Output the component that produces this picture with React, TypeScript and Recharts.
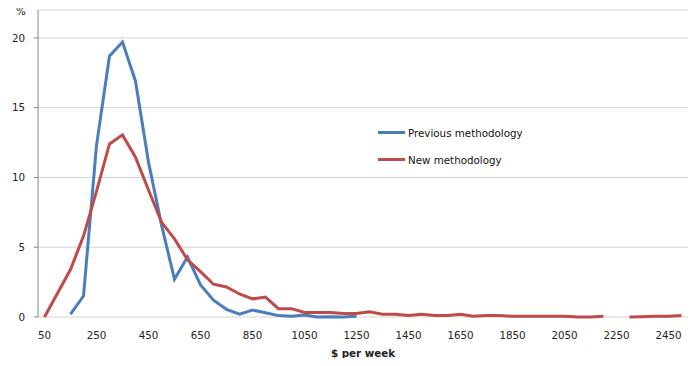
import { LineChart, Line, XAxis, YAxis, CartesianGrid, Legend } from 'recharts'

const WEEKLY_PAY = [
  50, 100, 150, 200, 250, 300, 350, 400, 450, 500,
  550, 600, 650, 700, 750, 800, 850, 900, 950, 1000,
  1050, 1100, 1150, 1200, 1250, 1300, 1350, 1400, 1450, 1500,
  1550, 1600, 1650, 1700, 1750, 1800, 1850, 1900, 1950, 2000,
  2050, 2100, 2150, 2200, 2250, 2300, 2350, 2400, 2450, 2500,
]

const PREVIOUS = [
  null, null, 0.2, 1.5, 12.3, 18.7, 19.7, 16.9, 11.1, 6.6,
  2.7, 4.3, 2.3, 1.2, 0.55, 0.2, 0.5, 0.3, 0.1, 0.05,
  0.15, 0, 0.02, 0, 0.05, null, null, null, null, null,
  null, null, null, null, null, null, null, null, null, null,
  null, null, null, null, null, null, null, null, null, null,
]

const NEW = [
  0, 1.7, 3.4, 5.8, 9.0, 12.4, 13.05, 11.45, 9.1, 6.8,
  5.6, 4.1, 3.25, 2.35, 2.15, 1.65, 1.3, 1.43, 0.6, 0.6,
  0.33, 0.33, 0.33, 0.25, 0.25, 0.38, 0.2, 0.2, 0.1, 0.2,
  0.1, 0.1, 0.2, 0.05, 0.1, 0.1, 0.05, 0.05, 0.05, 0.05,
  0.05, 0, 0, 0.05, null, 0, 0.02, 0.05, 0.05, 0.1,
]

const X_LABELS = [50, 250, 450, 650, 850, 1050, 1250, 1450, 1650, 1850, 2050, 2250, 2450]
const Y_TICKS = [0, 5, 10, 15, 20]

const BLUE = '#4a7ebb'
const RED = '#be4b48'
const FONT = '"DejaVu Sans", Verdana, sans-serif'

const data = WEEKLY_PAY.map((pay, i) => ({ pay, previous: PREVIOUS[i], newer: NEW[i] }))
// tick marks sit between categories, like Excel
const boundaries = [WEEKLY_PAY[0] - 25, ...WEEKLY_PAY.map(p => p + 25)]

const LegendBox = () => (
  <div style={{ fontFamily: FONT, fontSize: 10.3, color: '#111' }}>
    {[['Previous methodology', BLUE], ['New methodology', RED]].map(([name, c]) => (
      <div key={name} style={{ display: 'flex', alignItems: 'center', height: 27 }}>
        <span style={{ width: 27, height: 3, background: c, display: 'inline-block', marginRight: 3 }} />
        {name}
      </div>
    ))}
  </div>
)

export default function App() {
  return (
    <div style={{ margin: -8, background: '#fff', width: 699, height: 366 }}>
      <LineChart width={699} height={366} data={data} margin={{ top: 10, right: 11, left: 0, bottom: 0 }}>
        <CartesianGrid horizontal vertical={false} stroke="#d4d4d4" />
        <XAxis
          xAxisId="marks"
          dataKey="pay"
          type="number"
          domain={[25, 2525]}
          ticks={boundaries}
          tickFormatter={() => ''}
          height={0}
          tickSize={4}
          axisLine={{ stroke: '#868686' }}
          tickLine={{ stroke: '#868686' }}
        />
        <XAxis
          xAxisId="main"
          dataKey="pay"
          type="number"
          domain={[25, 2525]}
          ticks={X_LABELS}
          interval={0}
          height={49}
          axisLine={false}
          tickLine={false}
          tickSize={5}
          tickMargin={10}
          tick={{ fontFamily: FONT, fontSize: 10.3, fill: '#222' }}
          label={{ value: '$ per week', position: 'insideBottom', offset: 9, fontFamily: FONT, fontSize: 10.3, fontWeight: 'bold', fill: '#222' }}
        />
        <YAxis
          domain={[0, 22]}
          ticks={Y_TICKS}
          width={38}
          tickSize={4}
          tickMargin={9}
          tickLine={{ stroke: '#868686' }}
          axisLine={{ stroke: '#868686' }}
          tick={{ fontFamily: FONT, fontSize: 10.3, fill: '#222' }}
          label={{ value: '%', position: 'top', offset: -5, dx: 2, fontFamily: FONT, fontSize: 10.3, fill: '#222' }}
        />
        <Legend
          content={<LegendBox />}
          layout="horizontal"
          verticalAlign="middle"
          wrapperStyle={{ left: 378, top: 119, width: 200, bottom: 'auto' }}
        />
        <Line xAxisId="main" dataKey="previous" name="Previous methodology" stroke={BLUE} strokeWidth={3} dot={false} isAnimationActive={false} />
        <Line xAxisId="main" dataKey="newer" name="New methodology" stroke={RED} strokeWidth={3} dot={false} isAnimationActive={false} />
      </LineChart>
    </div>
  )
}
